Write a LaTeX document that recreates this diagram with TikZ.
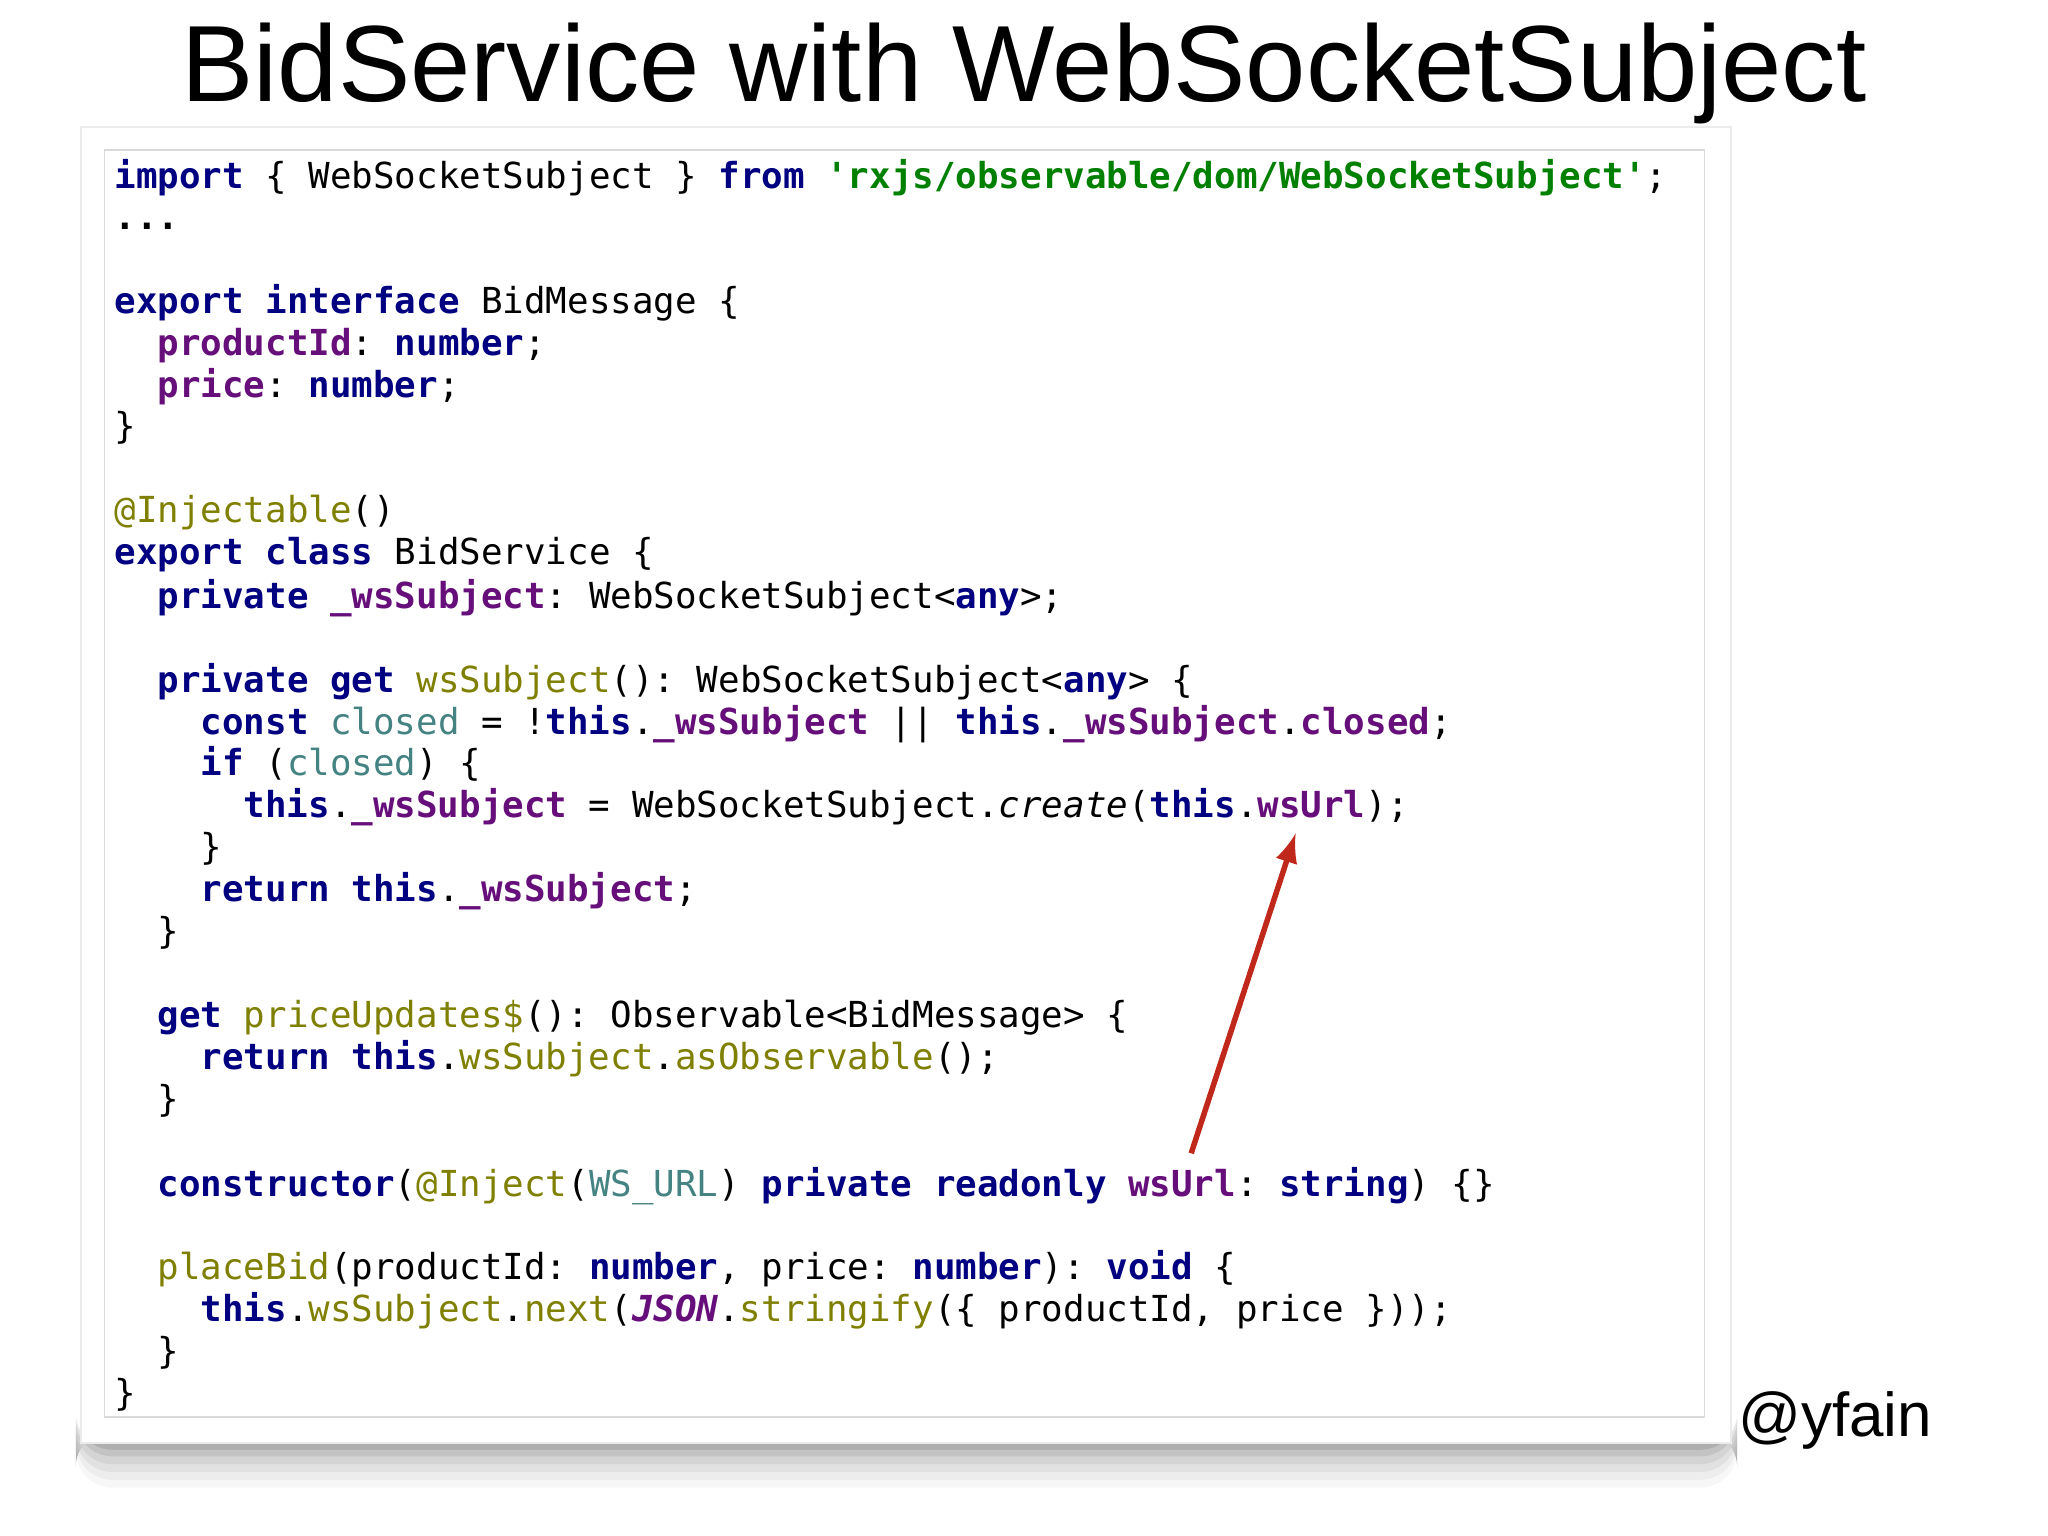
\documentclass[tikz,border=0pt]{standalone}
\usepackage{fontspec}
\setmainfont{Liberation Sans}
\setmonofont{DejaVu Sans Mono}
\definecolor{kwblue}{HTML}{000080}
\definecolor{fldpurple}{HTML}{660E7A}
\definecolor{strgreen}{HTML}{008000}
\definecolor{annolive}{HTML}{808000}
\definecolor{locteal}{HTML}{458383}
\definecolor{arrowred}{HTML}{C0281B}
\newcommand\kw[1]{\textcolor{kwblue}{\bfseries #1}}
\newcommand\fld[1]{\textcolor{fldpurple}{\bfseries #1}}
\newcommand\fldn[1]{\textcolor{fldpurple}{#1}}
\newcommand\str[1]{\textcolor{strgreen}{\bfseries #1}}
\newcommand\ann[1]{\textcolor{annolive}{#1}}
\newcommand\loc[1]{\textcolor{locteal}{#1}}
\tikzset{
  code/.style={anchor=base west,inner sep=0pt,font=\ttfamily\fontsize{7.8pt}{9pt}\selectfont},
  card/.style={fill=white,draw=black!8},
  pointer/.style={draw=arrowred,line width=1.2pt,-latex}
}
% one code line: name, indent level, baseline y, text
\newcommand\cl[4]{\node[code] (#1) at (87+33*#2,#3+10) {#4};}

\begin{document}
\begin{tikzpicture}[x=0.01cm,y=-0.01cm]
\useasboundingbox (0,0) rectangle (1568,1176);
\node[font=\fontsize{23.6pt}{28pt}\selectfont] (title) at (784,56) {BidService with WebSocketSubject};

% shadow under the card
\foreach \w/\o in {34/0.03,28/0.04,22/0.05,16/0.06,10/0.08,5/0.1}
  \fill[black,opacity=\o,rounded corners=8pt] (58,1095) rectangle (1330,1105+\w);
\fill[card] (62,97) rectangle (1325,1105);
\draw[black!15] (80,115) rectangle (1305,1085);

\cl{l1}{0}{134}{\kw{import} \{ WebSocketSubject \} \kw{from} \str{'rxjs/observable/dom/WebSocketSubject'};}
\cl{l2}{0}{166}{\textbf{...}}
\cl{l3}{0}{230}{\kw{export interface} BidMessage \{}
\cl{l4}{1}{262}{\fld{productId}: \kw{number};}
\cl{l5}{1}{294}{\fld{price}: \kw{number};}
\cl{l6}{0}{326}{\}}
\cl{l7}{0}{390}{\ann{@Injectable}()}
\cl{l8}{0}{422}{\kw{export class} BidService \{}
\cl{l9}{1}{456}{\kw{private} \fld{\_wsSubject}: WebSocketSubject<\kw{any}>;}
\cl{l10}{1}{520}{\kw{private get} \ann{wsSubject}(): WebSocketSubject<\kw{any}> \{}
\cl{l11}{2}{552}{\kw{const} \loc{closed} = !\kw{this}.\fld{\_wsSubject} || \kw{this}.\fld{\_wsSubject}.\fld{closed};}
\cl{l12}{2}{584}{\kw{if} (\loc{closed}) \{}
\cl{l13}{3}{616}{\kw{this}.\fld{\_wsSubject} = WebSocketSubject.\textit{create}(\kw{this}.\fld{wsUrl});}
\cl{l14}{2}{648}{\}}
\cl{l15}{2}{680}{\kw{return this}.\fld{\_wsSubject};}
\cl{l16}{1}{712}{\}}
\cl{l17}{1}{777}{\kw{get} \ann{priceUpdates\$}(): Observable<BidMessage> \{}
\cl{l18}{2}{809}{\kw{return this}.\ann{wsSubject}.\ann{asObservable}();}
\cl{l19}{1}{841}{\}}
\cl{l20}{1}{906}{\kw{constructor}(\ann{@Inject}(\loc{WS\_URL}) \kw{private readonly} \fld{wsUrl}: \kw{string}) \{\}}
\cl{l21}{1}{970}{\ann{placeBid}(productId: \kw{number}, price: \kw{number}): \kw{void} \{}
\cl{l22}{2}{1002}{\kw{this}.\ann{wsSubject}.\ann{next}(\fld{\itshape JSON}.\ann{stringify}(\{ productId, price \}));}
\cl{l23}{1}{1034}{\}}
\cl{l24}{0}{1066}{\}}

\coordinate (tail) at (912,883);
\coordinate (head) at (992,638);
\draw[pointer] (tail) -- (head);

\node[font=\fontsize{13.5pt}{16pt}\selectfont,anchor=base] (handle) at (1405,1100) {@yfain};
\end{tikzpicture}
\end{document}
